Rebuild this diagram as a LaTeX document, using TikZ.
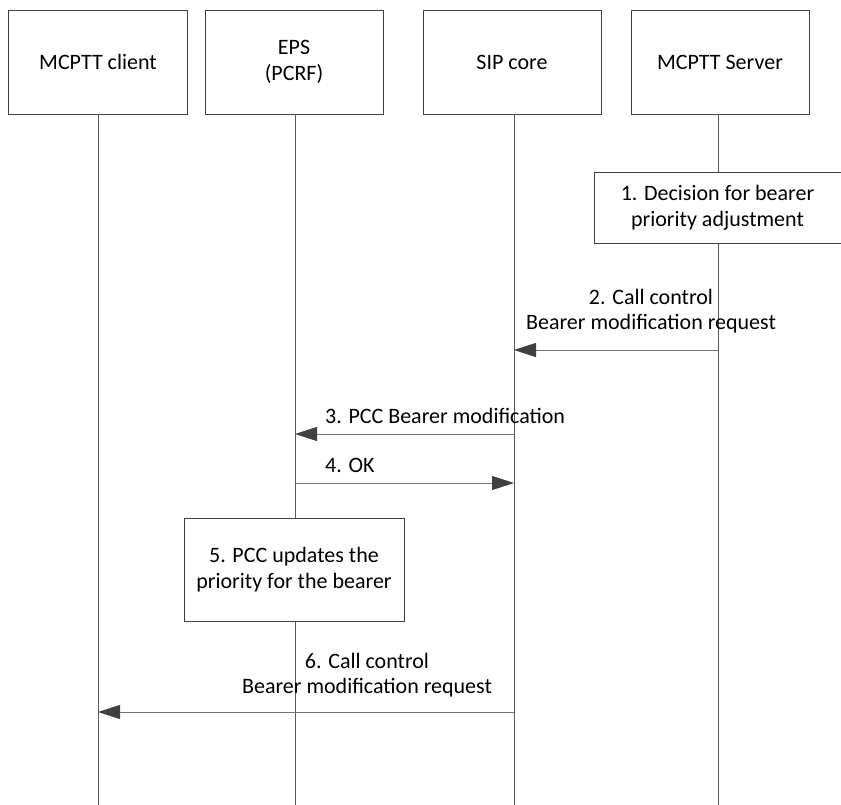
\documentclass[tikz,border=0pt]{standalone}
\usepackage{fontspec}
\setmainfont{Carlito}
\usepackage{tikz}
\usepackage{xcolor}
\usetikzlibrary{arrows.meta}

\begin{document}
\begin{tikzpicture}[x=1pt,y=-1pt]
    % Styles for boxes and lines
    \tikzset{
      box/.style={rectangle, draw=black!75, fill=white, align=center, inner sep=0pt, font=\fontsize{22}{26}\selectfont},
      life/.style={draw=black!65, line width=0.9pt},
      msg/.style={draw=black!55, line width=0.9pt, arrows={-{Triangle[length=22pt,width=14pt,fill=black!75,color=black!75]}}},
      lbl/.style={align=center, inner sep=0pt, font=\fontsize{22}{25.5}\selectfont}
    }
    \useasboundingbox (0,0) rectangle (841,805);

    % Lifeline heads
    \node[box, minimum width=179pt, minimum height=104pt] (client) at (98,62) {MCPTT client};
    \node[box, minimum width=178pt, minimum height=104pt] (eps) at (294,62) {EPS\\(PCRF)};
    \node[box, minimum width=178pt, minimum height=104pt] (sip) at (512,62) {SIP core};
    \node[box, minimum width=178pt, minimum height=104pt] (server) at (720,62) {MCPTT Server};

    % Lifeline ends
    \coordinate (clientEnd) at (98,805);
    \coordinate (epsEnd) at (295,805);
    \coordinate (sipEnd) at (514,805);
    \coordinate (serverEnd) at (718,805);
    \draw[life] (98,114) -- (clientEnd);
    \draw[life] (295,114) -- (epsEnd);
    \draw[life] (514,114) -- (sipEnd);
    \draw[life] (718,114) -- (serverEnd);

    % Local actions
    \node[box, minimum width=247pt, minimum height=71pt] (decision) at (717.5,207.5) {1. Decision for bearer\\priority adjustment};
    \node[box, minimum width=220pt, minimum height=103pt] (update) at (294,569.5) {5. PCC updates the\\priority for the bearer};

    % Message points
    \coordinate (m2a) at (718,350);
    \coordinate (m2b) at (514,350);
    \coordinate (m3a) at (514,434);
    \coordinate (m3b) at (295,434);
    \coordinate (m4a) at (295,483);
    \coordinate (m4b) at (514,483);
    \coordinate (m6a) at (514,712);
    \coordinate (m6b) at (98,712);

    % Messages with labels
    \draw[msg] (m2a) -- (m2b);
    \node[lbl] (l2) at (651,311) {2. Call control\\Bearer modification request};
    \draw[msg] (m3a) -- (m3b);
    \node[lbl, anchor=west] (l3) at (325,416) {3. PCC Bearer modification};
    \draw[msg] (m4a) -- (m4b);
    \node[lbl, anchor=west] (l4) at (325,465) {4. OK};
    \draw[msg] (m6a) -- (m6b);
    \node[lbl] (l6) at (367,675) {6. Call control\\Bearer modification request};

\end{tikzpicture}
\end{document}
